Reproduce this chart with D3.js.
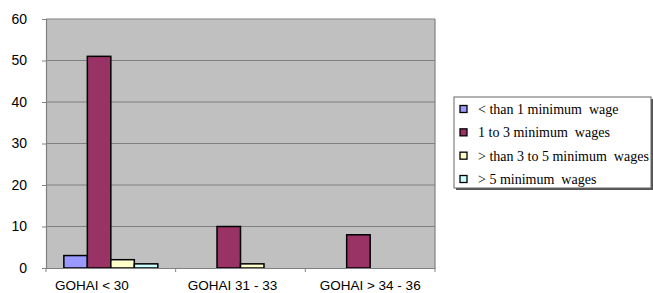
<!DOCTYPE html>
<html>
<head>
<meta charset="utf-8">
<script src="https://cdn.jsdelivr.net/npm/d3@7"></script>
<style>
body { margin: 0; background: #fff; }
svg { display: block; }
</style>
</head>
<body>
<div id="chart"></div>
<script>
var categories = ["GOHAI < 30", "GOHAI 31 - 33", "GOHAI > 34 - 36"];
var seriesNames = ["< than 1 minimum  wage", "1 to 3 minimum  wages", "> than 3 to 5 minimum  wages", "> 5 minimum  wages"];
var seriesColors = ["#9999ff", "#993366", "#ffffcc", "#ccffff"];
var lessThan1 = [3, 0, 0];
var oneTo3 = [51, 10, 8];
var threeTo5 = [2, 1, 0];
var moreThan5 = [1, 0, 0];
var yTicks = [0, 10, 20, 30, 40, 50, 60];
var labelShift = [-19, -8, 0];

var values = [lessThan1, oneTo3, threeTo5, moreThan5];

var width = 653, height = 293;
var plot = { left: 46, right: 435, top: 19, bottom: 268 };

var svg = d3.select("#chart").append("svg")
    .attr("width", width)
    .attr("height", height);

var y = d3.scaleLinear()
    .domain([0, 60])
    .range([plot.bottom, plot.top]);

var x0 = d3.scaleBand()
    .domain(categories)
    .range([plot.left, plot.right])
    .padding(0);

var x1 = d3.scaleBand()
    .domain(d3.range(seriesNames.length))
    .range([0, x0.bandwidth()])
    .paddingInner(0)
    .paddingOuter(0.76);

// plot area
svg.append("rect")
    .attr("x", plot.left)
    .attr("y", plot.top)
    .attr("width", plot.right - plot.left)
    .attr("height", plot.bottom - plot.top)
    .attr("fill", "#c0c0c0");

// grid lines
svg.append("g")
    .selectAll("line")
    .data(yTicks.filter(function (d) { return d > 0; }))
  .enter().append("line")
    .attr("x1", plot.left)
    .attr("x2", plot.right)
    .attr("y1", function (d) { return y(d); })
    .attr("y2", function (d) { return y(d); })
    .attr("stroke", "#808080")
    .attr("stroke-width", 1.2);

svg.append("line")
    .attr("x1", plot.right).attr("x2", plot.right)
    .attr("y1", plot.top).attr("y2", plot.bottom)
    .attr("stroke", "#808080")
    .attr("stroke-width", 1.2);

// bars
var group = svg.append("g")
    .selectAll("g")
    .data(categories)
  .enter().append("g")
    .attr("transform", function (d) { return "translate(" + x0(d) + ",0)"; });

group.selectAll("rect")
    .data(function (d, i) {
        return values.map(function (s, k) { return { k: k, v: s[i] }; })
            .filter(function (e) { return e.v > 0; });
    })
  .enter().append("rect")
    .attr("x", function (d) { return x1(d.k); })
    .attr("y", function (d) { return y(d.v); })
    .attr("width", x1.bandwidth())
    .attr("height", function (d) { return y(0) - y(d.v); })
    .attr("fill", function (d) { return seriesColors[d.k]; })
    .attr("stroke", "#000")
    .attr("stroke-width", 1.5);

// y axis
var yAxis = svg.append("g")
    .attr("transform", "translate(" + plot.left + ",0)")
    .call(d3.axisLeft(y).tickValues(yTicks).tickSize(4).tickPadding(15));
yAxis.select(".domain").attr("stroke", "#808080").attr("stroke-width", 1.2);
yAxis.selectAll(".tick line").attr("stroke", "#808080");
yAxis.selectAll("text")
    .attr("font-family", "Liberation Sans, Arial, sans-serif")
    .attr("font-size", 14)
    .attr("fill", "#000");

// x axis
var xAxis = svg.append("g")
    .attr("transform", "translate(0," + plot.bottom + ")")
    .call(d3.axisBottom(x0).tickSize(0).tickPadding(12));
xAxis.select(".domain").attr("stroke", "#808080").attr("stroke-width", 1.2);
xAxis.selectAll("text")
    .attr("font-family", "Liberation Sans, Arial, sans-serif")
    .attr("font-size", 13.5)
    .attr("fill", "#000")
    .attr("dx", function (d, i) { return labelShift[i]; });

xAxis.selectAll(".bound")
    .data(categories.map(function (d) { return x0(d); }).concat([plot.right]))
  .enter().append("line")
    .attr("class", "bound")
    .attr("x1", function (d) { return d; })
    .attr("x2", function (d) { return d; })
    .attr("y1", 0)
    .attr("y2", 4)
    .attr("stroke", "#808080");

// legend
var legend = { x: 454, y: 97, w: 197, h: 91 };
svg.append("rect")
    .attr("x", legend.x + 2).attr("y", legend.y + 2)
    .attr("width", legend.w).attr("height", legend.h)
    .attr("fill", "#555");
svg.append("rect")
    .attr("x", legend.x).attr("y", legend.y)
    .attr("width", legend.w).attr("height", legend.h)
    .attr("fill", "#fff")
    .attr("stroke", "#666");

var ly = d3.scalePoint()
    .domain(d3.range(seriesNames.length))
    .range([legend.y + 12, legend.y + 82]);

var item = svg.append("g")
    .selectAll("g")
    .data(seriesNames)
  .enter().append("g")
    .attr("transform", function (d, i) { return "translate(" + (legend.x + 6) + "," + ly(i) + ")"; });

item.append("rect")
    .attr("x", 0)
    .attr("y", -3.5)
    .attr("width", 7)
    .attr("height", 7)
    .attr("fill", function (d, i) { return seriesColors[i]; })
    .attr("stroke", "#000")
    .attr("stroke-width", 1.3);

item.append("text")
    .attr("x", 18)
    .attr("y", 0)
    .attr("dy", "0.35em")
    .attr("font-family", "Liberation Serif, Times New Roman, serif")
    .attr("font-size", 14)
    .attr("xml:space", "preserve")
    .style("white-space", "pre")
    .text(function (d) { return d; });
</script>
</body>
</html>
